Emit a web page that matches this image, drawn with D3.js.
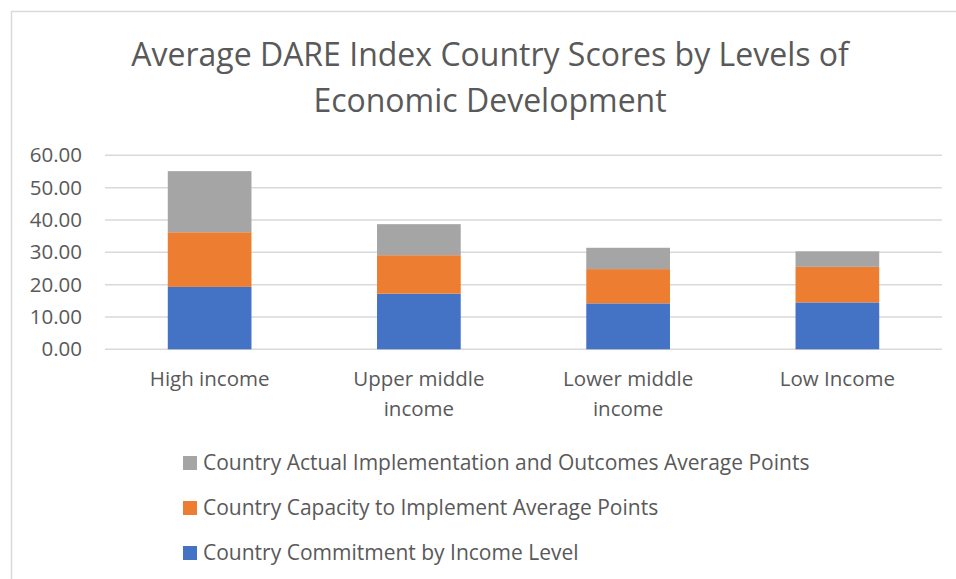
<!DOCTYPE html>
<html>
<head>
<meta charset="utf-8">
<script src="https://cdn.jsdelivr.net/npm/d3@7"></script>
<style>
  body { margin:0; background:#fff; }
  text { font-family:"Open Sans", sans-serif; fill:#595959; }
</style>
</head>
<body>
<svg id="chart"></svg>
<script>
// values
var categories = ["High income","Upper middle income","Lower middle income","Low Income"];
var commitment = [19.3, 17.2, 14.2, 14.5];
var capacity = [16.9, 11.9, 10.6, 11.0];
var implementation = [18.9, 9.6, 6.6, 4.8];
var yTicks = [0,10,20,30,40,50,60];
var seriesNames = ["Country Commitment by Income Level",
                   "Country Capacity to Implement Average Points",
                   "Country Actual Implementation and Outcomes Average Points"];
var colors = ["#4472C4","#ED7D31","#A5A5A5"];

var screen = {width:956, height:579};
var plot = {left:105, right:942, top:155.3, bottom:349.3};

var svg = d3.select("#chart")
    .attr("width", screen.width)
    .attr("height", screen.height);

// chart frame
svg.append("rect")
    .attr("x",11.5).attr("y",11.5)
    .attr("width",990).attr("height",600)
    .style("fill","#fff")
    .style("stroke","#d9d9d9")
    .style("stroke-width",1.5);

// title
var title = ["Average DARE Index Country Scores by Levels of","Economic Development"];
svg.selectAll(".title")
    .data(title)
    .enter().append("text")
    .attr("class","title")
    .attr("x",490)
    .attr("y",function(d,i){return 66+i*46})
    .attr("text-anchor","middle")
    .style("font-size","32px")
    .text(function(d){return d});

var xScale = d3.scaleBand()
    .domain(categories)
    .range([plot.left, plot.right])
    .paddingInner(0.6)
    .paddingOuter(0.3);

var yScale = d3.scaleLinear()
    .domain([0,60])
    .range([plot.bottom, plot.top]);

// gridlines
svg.append("g")
    .selectAll("line")
    .data(yTicks)
    .enter().append("line")
    .attr("x1",plot.left).attr("x2",plot.right)
    .attr("y1",function(d){return yScale(d)})
    .attr("y2",function(d){return yScale(d)})
    .style("stroke","#d9d9d9")
    .style("stroke-width",1.5);

// y axis labels
var yAxis = d3.axisLeft(yScale)
    .tickValues(yTicks)
    .tickFormat(d3.format(".2f"))
    .tickSize(0)
    .tickPadding(23);
var ya = svg.append("g")
    .attr("transform","translate("+plot.left+",0)")
    .call(yAxis);
ya.select(".domain").remove();
ya.selectAll("text")
    .style("font-size","20.5px")
    .style("fill","#595959")
    .style("font-family","'Open Sans', sans-serif");

// stacked bars
var rows = categories.map(function(c,i){
    return {cat:c, commitment:commitment[i], capacity:capacity[i], implementation:implementation[i]};
});
var stack = d3.stack().keys(["commitment","capacity","implementation"]);
var layers = stack(rows);

svg.append("g")
    .selectAll("g")
    .data(layers)
    .enter().append("g")
    .style("fill",function(d,i){return colors[i]})
    .selectAll("rect")
    .data(function(d){return d})
    .enter().append("rect")
    .attr("x",function(d){return xScale(d.data.cat)})
    .attr("width",xScale.bandwidth())
    .attr("y",function(d){return yScale(d[1])})
    .attr("height",function(d){return yScale(d[0])-yScale(d[1])});

// category labels, wrapped like excel
var xa = svg.append("g");
categories.forEach(function(c){
    var words = c.split(" ");
    var lines = [];
    var cur = [];
    var t = xa.append("text").style("font-size","20.5px").attr("text-anchor","middle");
    words.forEach(function(w){
        cur.push(w);
        t.text(cur.join(" "));
        if (t.node().getComputedTextLength() > 160 && cur.length > 1) {
            cur.pop();
            lines.push(cur.join(" "));
            cur = [w];
        }
    });
    lines.push(cur.join(" "));
    t.text(null);
    lines.forEach(function(l,i){
        t.append("tspan")
            .attr("x",xScale(c)+xScale.bandwidth()/2)
            .attr("y",386+i*30)
            .text(l);
    });
});

// legend (reversed order)
var legend = svg.append("g")
    .selectAll("g")
    .data([2,1,0])
    .enter().append("g")
    .attr("transform",function(d,i){return "translate(183,"+(456+i*45)+")"});
legend.append("rect")
    .attr("width",14).attr("height",14)
    .style("fill",function(d){return colors[d]});
legend.append("text")
    .attr("x",20).attr("y",14)
    .style("font-size","21px")
    .text(function(d){return seriesNames[d]});
</script>
</body>
</html>
